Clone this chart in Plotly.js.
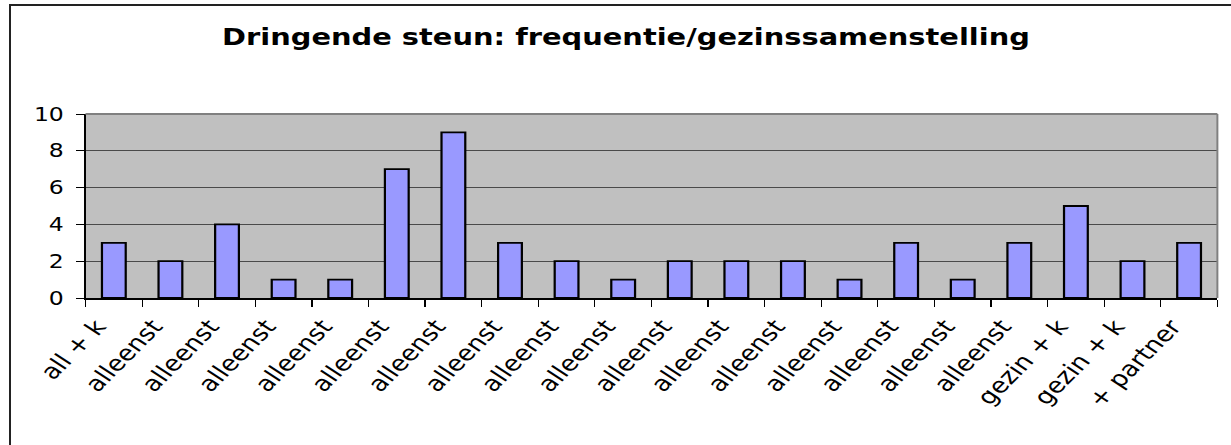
<!DOCTYPE html>
<html>
<head>
<meta charset="utf-8">
<script src="https://cdn.plot.ly/plotly-3.0.1.min.js"></script>
<style>
  html, body { margin: 0; padding: 0; background: #fff; }
  #wrap { position: relative; width: 1231px; height: 445px; overflow: hidden; }
  #chart { width: 993px; height: 445px; transform: scaleX(1.2397); transform-origin: 0 0; }
  #frame { position: absolute; left: 9px; top: 4px; width: 1300px; height: 500px;
           border-left: 2px solid #222; border-top: 2px solid #222; pointer-events: none; }
</style>
</head>
<body>
<div id="wrap">
  <div id="chart"></div>
  <div id="frame"></div>
</div>
<script>
const chartTitle = "Dringende steun: frequentie/gezinssamenstelling";
const categories = ["all + k", "alleenst", "alleenst", "alleenst", "alleenst", "alleenst",
  "alleenst", "alleenst", "alleenst", "alleenst", "alleenst", "alleenst", "alleenst",
  "alleenst", "alleenst", "alleenst", "alleenst", "gezin + k", "gezin + k", "+ partner"];
const values = [3, 2, 4, 1, 1, 7, 9, 3, 2, 1, 2, 2, 2, 1, 3, 1, 3, 5, 2, 3];
const yTicks = [0, 2, 4, 6, 8, 10];

const positions = categories.map((_, i) => i);
const labelOffset = -0.3;
const font = "Verdana, 'DejaVu Sans', sans-serif";

const trace = {
  type: "bar",
  x: positions,
  y: values,
  width: 0.42,
  marker: { color: "#9999FF", line: { color: "#000000", width: 1.8 } },
  hoverinfo: "skip"
};

const layout = {
  width: 993, height: 445,
  margin: { l: 69.4, r: 11.3, t: 114, b: 147 },
  paper_bgcolor: "#ffffff",
  plot_bgcolor: "#C0C0C0",
  showlegend: false,
  title: {
    text: "<b>" + chartTitle + "</b>",
    font: { family: font, size: 23.3, color: "#000" },
    x: 0.5085, xanchor: "center", xref: "container", y: 0.917, yanchor: "middle"
  },
  xaxis: {
    range: [-0.5, categories.length - 0.5],
    tickmode: "array",
    tickvals: positions.map(p => p + labelOffset),
    ticktext: categories,
    tickangle: -51,
    ticks: "",
    ticklabelstandoff: 6,
    tickfont: { family: font, size: 21.5, color: "#000" },
    showgrid: false, zeroline: false,
    showline: true, linecolor: "#000", linewidth: 1.5,
    minor: { tickmode: "linear", tick0: -0.5, dtick: 1, ticks: "outside", ticklen: 7, tickcolor: "#000", tickwidth: 1, showgrid: false }
  },
  yaxis: {
    range: [0, 10],
    tickmode: "array",
    tickvals: yTicks,
    ticks: "outside", ticklen: 6.5, tickcolor: "#000", tickwidth: 1,
    ticklabelstandoff: 6,
    tickfont: { family: font, size: 19, color: "#000" },
    showgrid: true, gridcolor: "#4a4a4a", gridwidth: 1,
    zeroline: false,
    showline: true, linecolor: "#000", linewidth: 1.2
  },
  shapes: [
    { type: "line", xref: "paper", yref: "paper", x0: 0, x1: 1, y0: 1, y1: 1, line: { color: "#808080", width: 2 } },
    { type: "line", xref: "paper", yref: "paper", x0: 1, x1: 1, y0: 0, y1: 1, line: { color: "#808080", width: 1.6 } }
  ]
};

Plotly.newPlot("chart", [trace], layout, { displayModeBar: false, staticPlot: true });
</script>
</body>
</html>
